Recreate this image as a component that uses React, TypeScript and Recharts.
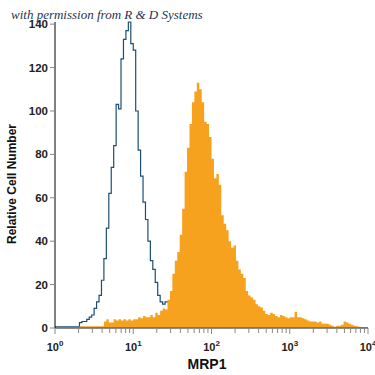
import { AreaChart, Area, XAxis, YAxis } from 'recharts';

// histogram bins, 32 per decade, from 10^0 to 10^4
const BINS_PER_DECADE = 32;

// isotype control (outline), counts per bin; bins past the end are empty
const isotype = [
  0.5, 0.5, 0.5, 0.5, 0.5, 0.5, 0.5, 0.5, 0.5, 0.5,
  2.5, 3, 3, 4, 5, 6, 9, 12, 15, 22,
  32, 46, 62, 74, 84, 103, 101, 124, 133, 137,
  141, 131, 128, 100, 82, 70, 58, 50, 40, 31,
  27, 21, 15, 12, 11, 12, 12, 9, 6, 4,
  3, 2, 1,
];

// MRP1 stained cells (filled)
const mrp1 = [
  0.3, 0.3, 0.3, 0.3, 0.3, 0.3, 0.3, 0.3, 0.3, 0.3,
  0.8, 0.8, 0.8, 0.8, 0.8, 0.8, 0.8, 0.8, 0.8, 0.8,
  3, 4, 2.5, 2.5, 4, 3.5, 4, 3.5, 4, 3.5,
  4, 3.5, 4, 4, 5, 4.5, 5.5, 5, 5, 6,
  5, 7, 6, 8, 9, 8.5, 13, 17, 25, 31,
  35, 43, 55, 72, 83, 94, 104, 109, 113, 110,
  104, 95, 94, 88, 78, 69, 71, 66, 52, 48,
  45, 40, 37, 38, 31, 27, 25, 23, 17, 15,
  14, 13, 11, 10, 9.5, 8, 6.5, 6, 7, 6.5,
  5.5, 5, 6, 5.5, 5, 4.5, 5, 5, 7.5, 5,
  5, 4.5, 4, 3.5, 3, 3, 3, 2.5, 3, 2,
  2, 2, 1.5, 1, 0.6, 1, 1, 1.5, 3, 2.5,
  2, 1.5, 1, 0.8, 0.6, 0.5, 0.5, 0.5,
];

const decades = [0, 1, 2, 3, 4];
const minorMults = [2, 3, 4, 5, 6, 7, 8, 9];
const yTicks = [0, 20, 40, 60, 80, 100, 120, 140];

const data = mrp1.map((v, i) => ({
  x: i / BINS_PER_DECADE,
  mrp: v,
  iso: i < isotype.length ? isotype[i] : null,
}));
data.push({ x: 4, mrp: mrp1[mrp1.length - 1], iso: null });

const xTicks = [
  ...decades,
  ...decades.slice(0, 4).flatMap(d => minorMults.map(m => d + Math.log10(m))),
];

const LogTick = (props: any) => {
  const { x, y, payload } = props;
  const v = payload.value;
  const major = Math.abs(v - Math.round(v)) < 1e-6;
  return (
    <g>
      <line x1={x} x2={x} y1={y} y2={y + (major ? 6 : 5)} stroke="#888" strokeWidth={1} />
      {major && (
        <text x={x} y={y + 23} textAnchor="middle" fontSize={11} fontWeight="bold" fill="#222"
          fontFamily="'Liberation Sans Narrow', 'Liberation Sans', Arial, sans-serif">
          <tspan>10</tspan>
          <tspan dy={-5} fontSize={8}>{Math.round(v)}</tspan>
        </text>
      )}
    </g>
  );
};

export default function App() {
  return (
    <div style={{ position: 'absolute', left: 0, top: 0, width: 375, height: 375, background: '#fff' }}>
      <AreaChart width={375} height={375} data={data} margin={{ top: 22, right: 7, left: 20, bottom: 17 }}>
        <XAxis dataKey="x" type="number" domain={[0, 4]} ticks={xTicks} interval={0}
          tick={<LogTick />} tickLine={false} tickSize={0} tickMargin={0} height={30}
          axisLine={{ stroke: '#666', strokeWidth: 1.5 }} />
        <YAxis domain={[0, 140]} ticks={yTicks} width={35} interval={0}
          axisLine={{ stroke: '#000', strokeWidth: 1 }} tickLine={{ stroke: '#888' }} tickSize={5}
          tick={{ fontSize: 11.5, fontWeight: 'bold', fill: '#222', fontFamily: "'Liberation Sans Narrow', 'Liberation Sans', Arial, sans-serif" }} />
        <Area type="stepAfter" dataKey="iso" fill="none" stroke="#1f4d72" strokeWidth={1.2} isAnimationActive={false} />
        <Area type="stepAfter" dataKey="mrp" fill="#f7a21e" fillOpacity={1} stroke="none" isAnimationActive={false} />
      </AreaChart>
      <div style={{ position: 'absolute', left: 11, top: 7, fontFamily: "'Liberation Serif', 'DejaVu Serif', serif", fontStyle: 'italic', fontSize: 13, color: '#1e3550', whiteSpace: 'nowrap' }}>
        with permission from R &amp; D Systems
      </div>
      <div style={{ position: 'absolute', left: 0, top: 356, width: 414, textAlign: 'center', fontFamily: "'Liberation Sans', Arial, sans-serif", fontWeight: 'bold', fontSize: 14, color: '#111' }}>
        MRP1
      </div>
      <div style={{ position: 'absolute', left: 12, top: 185, width: 0, height: 0 }}>
        <div style={{ position: 'absolute', left: -80, top: -8, width: 160, textAlign: 'center', transform: 'rotate(-90deg)', fontFamily: "'Liberation Sans Narrow', 'Liberation Sans', Arial, sans-serif", fontWeight: 'bold', fontSize: 12, color: '#111', whiteSpace: 'nowrap' }}>
          Relative Cell Number
        </div>
      </div>
    </div>
  );
}
